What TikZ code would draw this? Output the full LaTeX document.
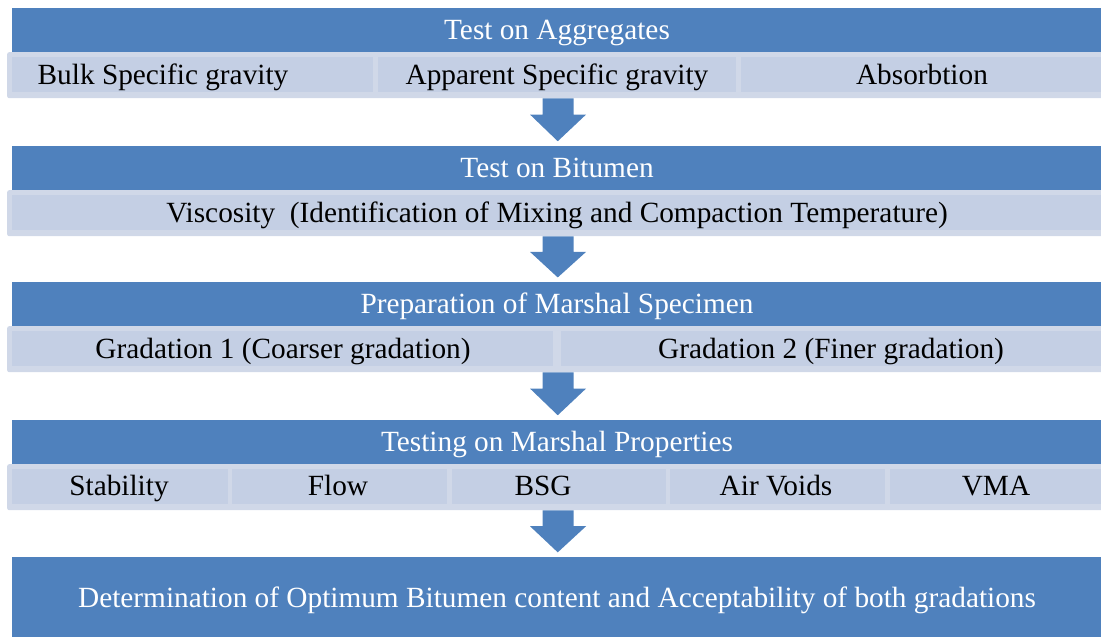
\documentclass[tikz,border=0pt]{standalone}
\usepackage{fontspec}
\setmainfont{Liberation Serif}
\usetikzlibrary{calc}
\definecolor{hblue}{RGB}{79,129,189}
\definecolor{rowbg}{RGB}{208,216,232}
\definecolor{cellbg}{RGB}{196,207,228}
\begin{document}
\begin{tikzpicture}[x=1pt,y=-1pt,
  txt/.style={font=\fontsize{29.3}{34}\selectfont, inner sep=0pt, anchor=base},
  hdr/.style={fill=hblue, draw=none, inner sep=0pt, minimum height=44pt, minimum width=1089pt, anchor=north west},
  rowbox/.style={fill=rowbg, draw=none, rounded corners=2pt, inner sep=0pt, minimum height=46pt, anchor=north west},
  cellbox/.style={fill=cellbg, draw=none, inner sep=0pt, minimum height=35pt, anchor=north west},
  htext/.style={txt, text=white},
  ctext/.style={txt, text=black},
  flowarrow/.style={fill=hblue, draw=none}
]
\useasboundingbox (0,0) rectangle (1101,637);

% ---------- Row 1 ----------
\node[hdr] (h1) at (12,8) {};
\node[htext] (h1t) at (557,39) {Test on Aggregates};
\node[rowbox, minimum width=1100pt] (r1) at (7,52) {};
\node[cellbox, minimum width=361pt] (c11) at (12,57) {};
\node[cellbox, minimum width=358pt] (c12) at (378,57) {};
\node[cellbox, minimum width=360pt] (c13) at (741,57) {};
\node[ctext] (t11) at (163,84) {Bulk Specific gravity};
\node[ctext] (t12) at (557,84) {Apparent Specific gravity};
\node[ctext] (t13) at (922,84) {Absorbtion};

% ---------- Row 2 ----------
\node[hdr] (h2) at (12,146) {};
\node[htext] (h2t) at (557,177) {Test on Bitumen};
\node[rowbox, minimum width=1100pt] (r2) at (7,190) {};
\node[cellbox, minimum width=1089pt] (c21) at (12,195) {};
\node[ctext] (t21) at (557,222) {Viscosity\ \ (Identification of Mixing and Compaction Temperature)};

% ---------- Row 3 ----------
\node[hdr] (h3) at (12,282) {};
\node[htext] (h3t) at (557,313) {Preparation of Marshal Specimen};
\node[rowbox, minimum width=1100pt] (r3) at (7,326) {};
\node[cellbox, minimum width=541pt] (c31) at (12,331) {};
\node[cellbox, minimum width=540pt] (c32) at (561,331) {};
\node[ctext] (t31) at (283,358) {Gradation 1 (Coarser gradation)};
\node[ctext] (t32) at (831,358) {Gradation 2 (Finer gradation)};

% ---------- Row 4 ----------
\node[hdr] (h4) at (12,420) {};
\node[htext] (h4t) at (557,451) {Testing on Marshal Properties};
\node[rowbox, minimum width=1100pt] (r4) at (7,464) {};
\node[cellbox, minimum width=216pt] (c41) at (12,469) {};
\node[cellbox, minimum width=215pt] (c42) at (232,469) {};
\node[cellbox, minimum width=214pt] (c43) at (452,469) {};
\node[cellbox, minimum width=215pt] (c44) at (670,469) {};
\node[cellbox, minimum width=211pt] (c45) at (890,469) {};
\node[ctext] (t41) at (119,495) {Stability};
\node[ctext] (t42) at (338,495) {Flow};
\node[ctext] (t43) at (543,495) {BSG};
\node[ctext] (t44) at (776,495) {Air Voids};
\node[ctext] (t45) at (996,495) {VMA};

% ---------- Final box ----------
\node[hdr, minimum height=80pt] (f) at (12,557) {};
\node[htext] (ft) at (557,607) {Determination of Optimum Bitumen content and Acceptability of both gradations};

% ---------- Arrows ----------
\foreach \a/\b in {r1/h2, r2/h3, r3/h4, r4/f}{
  \fill[flowarrow]
    ($(\a.south)+(-14.5,0)$) --
    ($(\a.south)+(16.5,0)$) --
    ($(\a.south)!0.34!(\b.north)+(16.5,0)$) --
    ($(\a.south)!0.34!(\b.north)+(29,0)$) --
    ($(\a.south)!0.9!(\b.north)+(1,0)$) --
    ($(\a.south)!0.34!(\b.north)+(-27,0)$) --
    ($(\a.south)!0.34!(\b.north)+(-14.5,0)$) -- cycle;
}
\end{tikzpicture}
\end{document}
